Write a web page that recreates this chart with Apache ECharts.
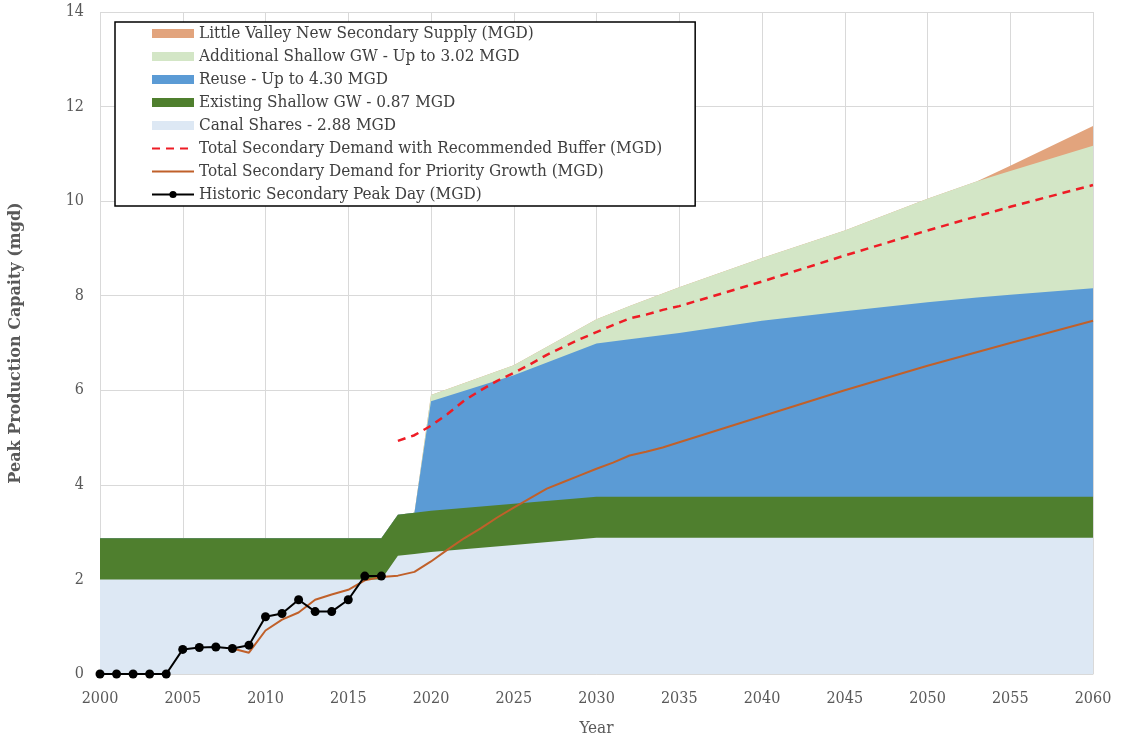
<!DOCTYPE html>
<html>
<head>
<meta charset="utf-8">
<script src="https://cdn.jsdelivr.net/npm/echarts@6/dist/echarts.min.js"></script>
<style>html,body{margin:0;padding:0;background:#fff}#c{width:1122px;height:742px}</style>
</head>
<body>
<div id="c"></div>
<script>
// ---- data ----
const AREA_YEARS = [2000, 2017, 2018, 2019, 2020, 2025, 2030, 2032, 2035, 2040, 2045, 2050, 2053, 2055, 2060];
const CANAL      = [2.00, 2.00, 2.50, 2.54, 2.58, 2.73, 2.88, 2.88, 2.88, 2.88, 2.88, 2.88, 2.88, 2.88, 2.88];
const EXISTING   = [0.87, 0.87, 0.87, 0.87, 0.87, 0.87, 0.87, 0.87, 0.87, 0.87, 0.87, 0.87, 0.87, 0.87, 0.87];
const REUSE      = [0, 0, 0, 0, 2.32, 2.72, 3.24, 3.33, 3.46, 3.72, 3.92, 4.11, 4.21, 4.27, 4.41];
const ADDITIONAL = [0, 0, 0, 0, 0.13, 0.21, 0.51, 0.70, 0.97, 1.33, 1.71, 2.19, 2.46, 2.62, 3.01];
const LITTLE_VALLEY = [0, 0, 0, 0, 0, 0, 0, 0, 0, 0, 0, 0, 0, 0.11, 0.42];

const BUFFER_YEARS = [2018, 2019, 2020, 2021, 2022, 2023, 2024, 2025, 2026, 2027, 2028, 2029, 2030, 2031, 2032, 2033, 2034, 2035, 2040, 2045, 2050, 2055, 2060];
const BUFFER       = [4.93, 5.05, 5.25, 5.50, 5.78, 6.00, 6.20, 6.37, 6.55, 6.75, 6.92, 7.08, 7.23, 7.38, 7.52, 7.60, 7.70, 7.78, 8.30, 8.85, 9.38, 9.88, 10.34];

const PRIORITY_YEARS = [2008, 2009, 2010, 2011, 2012, 2013, 2014, 2015, 2016, 2017, 2018, 2019, 2020, 2021, 2022, 2023, 2024, 2025, 2026, 2027, 2028, 2029, 2030, 2031, 2032, 2033, 2034, 2035, 2040, 2045, 2050, 2055, 2060];
const PRIORITY       = [0.54, 0.45, 0.92, 1.15, 1.30, 1.57, 1.68, 1.78, 1.98, 2.05, 2.08, 2.16, 2.38, 2.63, 2.87, 3.08, 3.31, 3.52, 3.72, 3.92, 4.06, 4.20, 4.34, 4.47, 4.62, 4.70, 4.79, 4.90, 5.45, 6.00, 6.52, 7.00, 7.47];

const HIST_YEARS = [2000, 2001, 2002, 2003, 2004, 2005, 2006, 2007, 2008, 2009, 2010, 2011, 2012, 2013, 2014, 2015, 2016, 2017];
const HISTORIC   = [0, 0, 0, 0, 0, 0.52, 0.56, 0.57, 0.54, 0.61, 1.21, 1.28, 1.57, 1.32, 1.32, 1.57, 2.07, 2.07];

const NAMES = {
  lv: 'Little Valley New Secondary Supply (MGD)',
  add: 'Additional Shallow GW - Up to 3.02 MGD',
  reuse: 'Reuse - Up to 4.30 MGD',
  ex: 'Existing Shallow GW - 0.87 MGD',
  canal: 'Canal Shares - 2.88 MGD',
  buf: 'Total Secondary Demand with Recommended Buffer (MGD)',
  pri: 'Total Secondary Demand for Priority Growth (MGD)',
  hist: 'Historic Secondary Peak Day (MGD)'
};

const FONT = '"DejaVu Serif Condensed", "DejaVu Serif", serif';
const TITLE_FONT = '"DejaVu Serif", serif';
const zip = (xs, ys) => xs.map((x, i) => [x, ys[i]]);

// stack layers bottom -> top; each drawn as its cumulative top filled to zero (opaque, upper layers behind)
const LAYERS = [
  [NAMES.canal, CANAL, '#DDE8F4'],
  [NAMES.ex, EXISTING, '#4F7F2E'],
  [NAMES.reuse, REUSE, '#5B9BD5'],
  [NAMES.add, ADDITIONAL, '#D3E6C6'],
  [NAMES.lv, LITTLE_VALLEY, '#E2A47D']
];
const cum = AREA_YEARS.map(() => 0);
const areaSeries = LAYERS.map(([name, vals, color], li) => {
  vals.forEach((v, i) => { cum[i] += v; });
  return {
    name, type: 'line', data: zip(AREA_YEARS, cum.slice()),
    symbol: 'none', lineStyle: { width: 0 }, itemStyle: { color },
    areaStyle: { color, opacity: 1 }, z: 2 - li * 0.1, silent: true
  };
});

const chart = echarts.init(document.getElementById('c'), null, { renderer: 'canvas' });
chart.setOption({
  animation: false,
  textStyle: { fontFamily: FONT },
  grid: { left: 98, right: 29, top: 12, bottom: 64, containLabel: false },
  legend: {
    orient: 'vertical', left: 115, top: 22,
    backgroundColor: '#fff', borderColor: '#000', borderWidth: 1.5,
    padding: [3, 33, 3, 36],
    itemWidth: 42, itemHeight: 9, itemGap: 6,
    textStyle: { fontFamily: FONT, fontSize: 17, color: '#404040' },
    data: [
      { name: NAMES.lv, icon: 'rect' },
      { name: NAMES.add, icon: 'rect' },
      { name: NAMES.reuse, icon: 'rect' },
      { name: NAMES.ex, icon: 'rect' },
      { name: NAMES.canal, icon: 'rect' },
      { name: NAMES.buf, itemStyle: { opacity: 0 } },
      { name: NAMES.pri, itemStyle: { opacity: 0 } },
      { name: NAMES.hist }
    ]
  },
  xAxis: {
    type: 'value', min: 2000, max: 2060, interval: 5,
    name: 'Year', nameLocation: 'middle', nameGap: 46,
    nameTextStyle: { fontFamily: FONT, fontSize: 17, color: '#595959' },
    axisLine: { show: true, lineStyle: { color: '#D9D9D9' } },
    axisTick: { show: false },
    axisLabel: { fontFamily: FONT, fontSize: 16, color: '#595959', margin: 17, formatter: v => String(v) },
    splitLine: { show: true, lineStyle: { color: '#D9D9D9', width: 1 } }
  },
  yAxis: {
    type: 'value', min: 0, max: 14, interval: 2,
    name: 'Peak Production Capaity (mgd)', nameLocation: 'middle', nameGap: 76,
    nameTextStyle: { fontFamily: TITLE_FONT, fontSize: 16, fontWeight: 'bold', color: '#595959' },
    axisLine: { show: false }, axisTick: { show: false },
    axisLabel: { fontFamily: FONT, fontSize: 16, color: '#595959', margin: 16 },
    splitLine: { show: true, lineStyle: { color: '#D9D9D9', width: 1 } }
  },
  series: areaSeries.reverse().concat([
    {
      name: NAMES.buf, type: 'line', data: zip(BUFFER_YEARS, BUFFER), symbol: 'none',
      lineStyle: { color: '#EE1C25', width: 2.5, type: [8, 6] }, itemStyle: { color: '#EE1C25' }, z: 3
    },
    {
      name: NAMES.pri, type: 'line', data: zip(PRIORITY_YEARS, PRIORITY), symbol: 'none',
      lineStyle: { color: '#C0602A', width: 2 }, itemStyle: { color: '#C0602A' }, z: 3
    },
    {
      name: NAMES.hist, type: 'line', data: zip(HIST_YEARS, HISTORIC), symbol: 'circle', symbolSize: 9,
      lineStyle: { color: '#000', width: 2 }, itemStyle: { color: '#000' }, z: 4
    }
  ])
});
</script>
</body>
</html>
